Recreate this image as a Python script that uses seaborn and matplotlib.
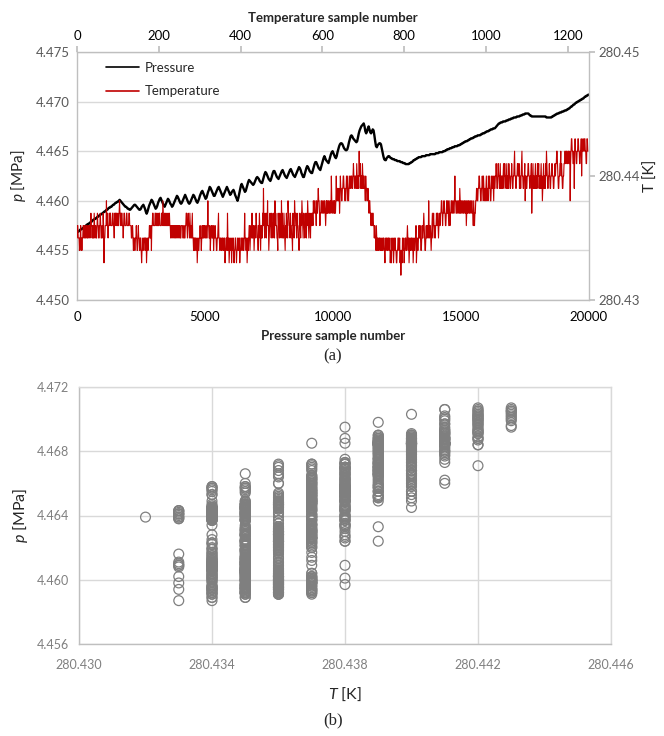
import numpy as np
import pandas as pd
import matplotlib
matplotlib.use("Agg")
import matplotlib.pyplot as plt
import seaborn as sns
from matplotlib.lines import Line2D

sns.set_theme(style="white")
plt.rcParams["font.family"] = ["Lato", "DejaVu Sans"]
plt.rcParams["mathtext.fontset"] = "custom"
plt.rcParams["mathtext.it"] = "Lato:italic"
plt.rcParams["mathtext.rm"] = "Lato"

# ---------------------------------------------------------------------------
# Data
#   pressure: one record every 2nd temperature sample (= every 32 pressure samples)
#   temperature: every temperature sample (= every 16 pressure samples)
# ---------------------------------------------------------------------------
P_RECORD_STEP = 2        # temperature samples between stored pressure records
PRESSURE_PER_TEMP = 16   # pressure samples per temperature sample
P_BASE, P_UNIT = 4.450, 1e-4      # MPa, pressure stored as counts above base
T_BASE, T_UNIT = 280.430, 1e-3    # K, temperature stored as hex levels above base

pressure_counts = """
68 69 69 70 71 71 72 72 73 74 74 75 76 76 77 77 78 79 79 80
81 81 82 82 83 84 84 85 86 86 87 87 88 89 89 90 91 91 92 93
93 94 94 95 96 96 97 98 98 99 99 100 101 100 99 98 97 96 95 94
94 93 92 92 91 91 92 93 94 95 96 96 95 94 93 92 91 91 92 94
95 96 94 92 89 87 89 92 95 97 99 101 100 98 96 94 92 93 95 98
100 102 103 101 99 97 95 94 96 98 100 102 101 99 97 96 94 95 97 99
101 103 105 104 102 100 98 97 98 100 102 104 106 104 102 100 98 97 98 100
102 104 106 105 103 101 99 98 100 102 105 107 109 110 108 106 104 102 103 106
109 111 114 113 111 109 107 105 105 107 109 111 113 114 112 110 108 106 104 106
108 110 112 114 112 110 108 106 107 109 110 111 109 106 104 102 100 103 107 111
115 117 115 113 111 109 110 113 116 119 121 120 119 118 117 116 117 119 121 123
124 123 122 120 119 118 118 121 124 127 129 128 126 124 122 121 120 122 125 128
130 130 128 126 124 123 122 124 126 128 130 131 129 127 125 124 123 125 127 129
131 132 130 128 126 125 124 126 128 130 132 134 133 131 128 126 124 124 127 130
133 135 134 132 130 129 128 128 131 134 137 139 139 137 135 133 132 131 134 137
140 143 145 143 141 140 139 138 141 144 147 149 150 148 146 144 143 145 149 152
155 157 158 158 157 155 153 152 151 151 152 155 159 162 165 166 165 163 162 161
160 159 160 164 168 171 173 175 176 177 178 175 170 168 170 173 175 172 169 168
170 172 171 166 160 155 154 156 157 158 158 157 153 149 145 142 141 141 143 144
145 145 144 143 143 142 142 142 141 141 141 140 140 140 140 139 139 139 138 138
138 137 137 137 137 137 138 138 139 139 140 141 141 142 142 143 143 144 144 144
144 145 145 145 145 145 146 146 146 146 146 147 147 147 147 147 147 147 148 148
148 148 149 149 149 149 149 150 150 150 151 151 152 152 152 153 153 153 154 154
154 155 155 155 155 156 156 156 157 157 158 158 159 159 160 160 160 161 161 162
162 163 163 163 164 164 165 165 165 166 166 166 166 167 167 168 168 168 169 169
170 170 170 171 171 172 172 172 173 173 173 174 175 176 177 178 178 179 179 179
180 180 180 180 181 181 181 182 182 182 183 183 183 184 184 184 184 185 185 185
185 186 186 186 187 187 187 188 188 188 188 188 187 186 186 185 185 185 185 185
185 185 185 185 185 185 185 185 185 185 185 185 185 184 184 184 184 184 184 184
185 185 186 186 187 187 188 188 188 189 189 189 190 190 190 191 191 191 192 192
193 193 194 195 195 196 197 197 198 199 199 200 200 201 201 202 202 203 203 204
205 205 206 206 207 207
"""

temperature_levels = """
56 65 55 45 56 45 45 56 65 56 65 56 65 56 65 66 56 76 65 65
65 76 56 65 56 76 65 56 67 65 56 65 76 35 56 66 86 76 56 67
67 76 66 67 76 65 76 77 67 66 76 67 87 76 67 76 65 67 76 66
67 76 66 67 76 66 65 56 65 45 54 45 56 54 45 65 54 45 54 34
45 54 45 55 45 34 54 45 56 65 56 46 67 76 66 67 76 67 66 76
67 76 66 67 76 87 66 76 67 66 76 67 66 76 65 66 56 65 66 56
65 66 56 65 66 56 65 56 66 65 56 65 56 67 76 56 76 65 76 56
56 75 54 55 45 54 45 34 54 45 56 55 45 65 56 56 65 56 65 56
86 65 56 45 56 65 56 45 56 65 54 45 56 75 54 45 54 45 54 45
45 34 45 54 75 45 34 54 45 34 45 54 34 45 54 34 45 54 45 34
45 54 45 54 45 75 54 45 34 54 56 64 56 65 75 56 64 56 65 76
65 54 65 76 54 65 65 76 96 65 76 65 76 86 64 56 76 65 76 65
76 65 86 76 65 54 76 65 76 65 86 75 65 76 54 65 76 65 87 76
65 76 65 54 76 65 87 76 65 76 65 54 76 65 76 87 65 76 65 76
65 76 87 65 76 65 76 67 76 87 78 87 76 87 78 98 87 67 78 87
78 87 78 87 67 87 87 78 87 78 87 a8 87 78 87 87 78 a8 89 98
89 78 a9 98 89 9a a9 98 89 9a 98 a9 89 9a a9 9a a9 9a ba a9
9a a9 ba 9a a9 ca ab 9a a9 ba 9a a9 98 a9 98 89 98 78 87 76
76 67 76 65 65 54 65 45 54 45 54 45 44 54 45 54 43 54 45 54
45 54 45 34 43 54 45 34 45 54 43 34 45 54 45 34 24 43 54 45
34 45 54 45 65 45 34 54 45 54 45 34 54 45 56 34 54 45 65 56
54 45 65 56 76 54 45 65 56 65 86 56 65 45 67 56 76 65 56 67
67 76 56 76 67 78 87 67 78 87 76 67 87 78 76 87 67 78 87 78
87 78 a8 87 78 87 78 87 98 78 87 78 87 78 87 78 67 87 78 87
78 87 78 87 76 87 67 78 89 98 89 9a a9 98 89 9a 98 a9 89 98
9a 89 98 a9 9a 98 89 a9 9a 98 a9 9a ab a9 9a ba a9 ab 9a a9
a9 ab 9a ba a9 ab 9a a9 ba a9 9a ab a9 9a ab ca a9 9a ab ba
ab 9a a9 ab ca a9 9a ab 8a a9 9a ab ba a9 9a ab 79 ab 9a a9
ab 9a a9 ba ab 9a a9 ab 9a 89 ab 9a a9 ba cb a9 9a ab a9 9a
ab ba a9 9a ab ab bc cb a9 9a ab bc ab a9 9a ab bc cb bc cb
bc cb bc 8b cd dc cb bc 9c dc cb bc cd dc cb bc cd ac cd dc
cd dc cb bd dc
"""

SCATTER_START = 104       # first temperature sample used in the p-T scatter

p_ticks_a = [4.450, 4.455, 4.460, 4.465, 4.470, 4.475]
t_ticks_a = [280.43, 280.44, 280.45]
psample_ticks = [0, 5000, 10000, 15000, 20000]
tsample_ticks = [0, 200, 400, 600, 800, 1000, 1200]
TSAMPLE_MAX = 1252
p_ticks_b = [4.456, 4.460, 4.464, 4.468, 4.472]
t_ticks_b = [280.430, 280.434, 280.438, 280.442, 280.446]

p_rec = P_BASE + np.array([int(v) for v in pressure_counts.split()]) * P_UNIT
rec_tsample = np.arange(len(p_rec)) * P_RECORD_STEP
pressure_df = pd.DataFrame({"psample": rec_tsample * PRESSURE_PER_TEMP, "p": p_rec})

levels = [int(c, 16) for c in "".join(temperature_levels.split())]
tsample = np.arange(len(levels))
temp_df = pd.DataFrame({
    "tsample": tsample,
    "T": T_BASE + np.array(levels) * T_UNIT,
    # each temperature sample paired with the latest pressure record
    "p": p_rec[tsample // P_RECORD_STEP],
})

# ---------------------------------------------------------------------------
W, H = 664, 736
fig = plt.figure(figsize=(W / 100, H / 100), dpi=100)

def box(l, t, r, b):
    return [l / W, 1 - b / H, (r - l) / W, (b - t) / H]

GRID = "#d9d9d9"
SPINE = "#bfbfbf"
GRAYTXT = "#595959"
RED = "#c00000"
FS = 9.5

# ---------------- (a) time series ----------------
ax = fig.add_axes(box(77, 52, 589, 300))
sns.lineplot(data=pressure_df, x="psample", y="p", ax=ax, color="black", lw=1.7,
             estimator=None, sort=False, legend=False)
ax.set_xlim(0, 20000)
ax.set_ylim(4.450, 4.475)
ax.set_yticks(p_ticks_a)
ax.set_yticklabels([f"{v:.3f}" for v in p_ticks_a], color=GRAYTXT, fontsize=FS)
ax.set_xticks(psample_ticks)
ax.set_xticklabels([str(v) for v in psample_ticks], color="black", fontsize=FS)
ax.yaxis.grid(True, color=GRID, lw=1)
ax.xaxis.grid(False)
ax.tick_params(axis="y", length=0, pad=5)
ax.tick_params(axis="x", length=0, pad=8)
ax.set_xlabel("")
ax.set_ylabel("")
for s in ax.spines.values():
    s.set_color(SPINE)
    s.set_linewidth(1)

axT = fig.add_axes(box(77, 52, 589, 300), facecolor="none")
sns.lineplot(data=temp_df, x="tsample", y="T", ax=axT, color=RED, lw=0.8,
             estimator=None, sort=False, legend=False)
axT.set_xlim(0, TSAMPLE_MAX)
axT.set_ylim(280.43, 280.45)
axT.xaxis.tick_top()
axT.yaxis.tick_right()
axT.set_xticks(tsample_ticks)
axT.set_xticklabels([str(v) for v in tsample_ticks], color="black", fontsize=FS)
axT.set_yticks(t_ticks_a)
axT.set_yticklabels([f"{v:.2f}" for v in t_ticks_a], color=GRAYTXT, fontsize=FS)
axT.tick_params(axis="x", length=4, color=SPINE, direction="out", pad=3)
axT.tick_params(axis="y", length=4, color=SPINE, direction="out", pad=3)
axT.set_xlabel("")
axT.set_ylabel("")
for s in axT.spines.values():
    s.set_visible(False)

handles = [Line2D([], [], color="black", lw=1.2), Line2D([], [], color=RED, lw=1.2)]
axT.legend(handles, ["Pressure", "Temperature"], loc="upper left",
           bbox_to_anchor=((106 - 77) / 512, 1 - (62 - 52) / 248),
           frameon=False, fontsize=FS, handlelength=2.5, handletextpad=0.45,
           labelspacing=0.85, borderaxespad=0, borderpad=0)

fig.text(333 / W, 1 - 18 / H, "Temperature sample number", ha="center", va="center",
         fontsize=FS, fontweight="bold")
fig.text(333 / W, 1 - 336 / H, "Pressure sample number", ha="center", va="center",
         fontsize=FS, fontweight="bold")
fig.text(18 / W, 1 - 176 / H, "$p$ [MPa]", ha="center", va="center", rotation=90,
         fontsize=11)
fig.text(651 / W, 1 - 176 / H, "T [K]", ha="center", va="center", rotation=90,
         fontsize=11)
fig.text(333 / W, 1 - 356 / H, "(a)", ha="center", va="center", fontsize=12,
         family="Liberation Serif")

# ---------------- (b) p versus T ----------------
axb = fig.add_axes(box(79, 387, 611, 644))
sc = temp_df[temp_df["tsample"] >= SCATTER_START]
sns.scatterplot(data=sc, x="T", y="p", ax=axb, s=50, facecolor="none",
                edgecolor="#7f7f7f", linewidth=0.9, legend=False)
axb.set_xlim(280.430, 280.446)
axb.set_ylim(4.456, 4.472)
axb.set_xticks(t_ticks_b)
axb.set_xticklabels([f"{v:.3f}" for v in t_ticks_b], color="#808080", fontsize=9)
axb.set_yticks(p_ticks_b)
axb.set_yticklabels([f"{v:.3f}" for v in p_ticks_b], color="#808080", fontsize=9)
axb.grid(True, color=GRID, lw=1)
axb.set_axisbelow(True)
axb.tick_params(axis="x", length=0, pad=11)
axb.tick_params(axis="y", length=0, pad=7)
axb.set_xlabel("")
axb.set_ylabel("")
for name, s in axb.spines.items():
    s.set_color(SPINE if name in ("left", "bottom") else GRID)
    s.set_linewidth(1)

fig.text(20 / W, 1 - 515 / H, "$p$ [MPa]", ha="center", va="center", rotation=90,
         fontsize=11.5)
fig.text(345 / W, 1 - 694 / H, "$T$ [K]", ha="center", va="center", fontsize=11.5)
fig.text(333 / W, 1 - 720 / H, "(b)", ha="center", va="center", fontsize=12,
         family="Liberation Serif")

fig.savefig("out.png", dpi=100)
